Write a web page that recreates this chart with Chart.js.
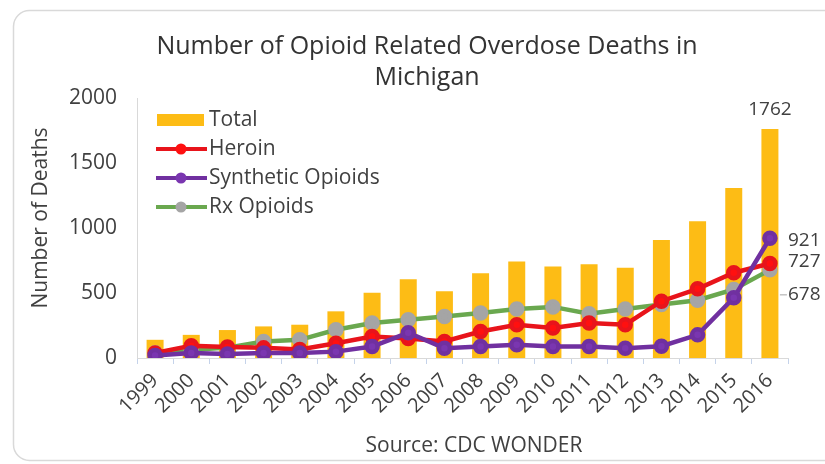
<!DOCTYPE html>
<html>
<head>
<meta charset="utf-8">
<script src="https://cdn.jsdelivr.net/npm/chart.js@4.4.1/dist/chart.umd.min.js"></script>
<style>
  html, body { margin: 0; padding: 0; background: #fff; }
  #wrap { width: 825px; height: 464px; position: relative; }
</style>
</head>
<body>
<div id="wrap"><canvas id="opioidChart" width="825" height="464"></canvas></div>
<script>
// Dati (CDC WONDER, Michigan)
const years = ['1999', '2000', '2001', '2002', '2003', '2004', '2005', '2006', '2007',
               '2008', '2009', '2010', '2011', '2012', '2013', '2014', '2015', '2016'];
const totalDeaths = [140, 178, 215, 243, 256, 359, 501, 605, 514,
                     651, 742, 703, 721, 695, 907, 1052, 1307, 1762];
const heroinDeaths = [39, 95, 85, 78, 65, 114, 165, 150, 127,
                      204, 256, 230, 269, 256, 437, 532, 656, 727];
const syntheticDeaths = [20, 39, 30, 39, 39, 49, 88, 194, 75,
                         88, 101, 88, 88, 75, 91, 178, 463, 921];
const rxDeaths = [40, 62, 80, 127, 140, 217, 269, 295, 320,
                  346, 377, 393, 341, 377, 411, 444, 527, 678];
const yTicks = [0, 500, 1000, 1500, 2000];

const titleLines = ['Number of Opioid Related Overdose Deaths in', 'Michigan'];
const yTitle = 'Number of Deaths';
const sourceText = 'Source: CDC WONDER';

const FONT = "'Open Sans', sans-serif";
const TEXT = '#404040';

// bordo arrotondato + titoli (posizionati come nell'originale)
const frame = {
    id: 'frame',
    beforeDraw(chart) {
        const c = chart.ctx;
        c.save();
        c.strokeStyle = '#d9d9d9';
        c.lineWidth = 1.5;
        c.beginPath();
        c.roundRect(13.5, 10.5, 830, 450, 16);
        c.stroke();

        c.fillStyle = '#333333';
        c.textAlign = 'center';
        c.textBaseline = 'alphabetic';
        c.font = '25px ' + FONT;
        c.fillText(titleLines[0], 427, 54);
        c.fillText(titleLines[1], 427, 85);

        c.fillStyle = TEXT;
        c.font = '21px ' + FONT;
        c.textBaseline = 'middle';
        c.fillText(sourceText, 474, 446);

        c.translate(41, 218);
        c.rotate(-Math.PI / 2);
        c.fillText(yTitle, 0, 0);
        c.restore();
    }
};

// legenda dentro l'area del grafico, in alto a sinistra
const innerLegend = {
    id: 'innerLegend',
    afterDraw(chart) {
        const c = chart.ctx;
        const x0 = 156, y0 = 120, step = 29;
        c.save();
        c.font = '21px ' + FONT;
        c.textBaseline = 'middle';
        chart.data.datasets.forEach(function(ds, i) {
            const y = y0 + i * step;
            if (ds.type === 'bar') {
                c.fillStyle = ds.backgroundColor;
                c.fillRect(x0 + 1, y - 6, 47, 12);
            } else {
                c.strokeStyle = ds.borderColor;
                c.lineWidth = 4;
                c.beginPath();
                c.moveTo(x0, y);
                c.lineTo(x0 + 51, y);
                c.stroke();
                c.fillStyle = ds.pointBackgroundColor;
                c.beginPath();
                c.arc(x0 + 25, y, 5.5, 0, Math.PI * 2);
                c.fill();
            }
            c.fillStyle = TEXT;
            c.fillText(ds.label, x0 + 53, y);
        });
        c.restore();
    }
};

// etichette dei valori del 2016
const endLabels = {
    id: 'endLabels',
    afterDatasetsDraw(chart) {
        const c = chart.ctx;
        const last = years.length - 1;
        c.save();
        c.font = '19px ' + FONT;
        c.fillStyle = TEXT;
        const bar = chart.getDatasetMeta(0).data[last];
        c.textAlign = 'center';
        c.textBaseline = 'bottom';
        c.fillText(String(totalDeaths[last]), bar.x, bar.y - 10);
        c.textAlign = 'left';
        c.textBaseline = 'middle';
        const her = chart.getDatasetMeta(1).data[last];
        const syn = chart.getDatasetMeta(2).data[last];
        const rx = chart.getDatasetMeta(3).data[last];
        c.fillText(String(syntheticDeaths[last]), syn.x + 18, syn.y + 2);
        c.fillText(String(heroinDeaths[last]), her.x + 18, her.y - 2);
        c.fillText(String(rxDeaths[last]), rx.x + 18, rx.y + 25);
        c.strokeStyle = '#a6a6a6';
        c.lineWidth = 1;
        c.beginPath();
        c.moveTo(rx.x + 10, rx.y + 25);
        c.lineTo(rx.x + 17, rx.y + 25);
        c.stroke();
        c.restore();
    }
};

const ctx = document.getElementById('opioidChart').getContext('2d');
const opioidChart = new Chart(ctx, {
    data: {
        labels: years,
        datasets: [{
            type: 'bar',
            label: 'Total',
            data: totalDeaths,
            backgroundColor: '#fdbc15',
            barPercentage: 0.47,
            categoryPercentage: 1,
            order: 4
        }, {
            type: 'line',
            label: 'Heroin',
            data: heroinDeaths,
            borderColor: '#e8141b',
            backgroundColor: '#e8141b',
            pointBackgroundColor: '#ff1010',
            pointBorderColor: '#e8141b',
            borderWidth: 4.5,
            pointRadius: 5.5,
            order: 2
        }, {
            type: 'line',
            label: 'Synthetic Opioids',
            data: syntheticDeaths,
            borderColor: '#7030a0',
            backgroundColor: '#7030a0',
            pointBackgroundColor: '#7a36b0',
            pointBorderColor: '#7030a0',
            borderWidth: 4.5,
            pointRadius: 5.5,
            order: 1
        }, {
            type: 'line',
            label: 'Rx Opioids',
            data: rxDeaths,
            borderColor: '#6aa84f',
            backgroundColor: '#a5a5a5',
            pointBackgroundColor: '#a5a5a5',
            pointBorderColor: '#a5a5a5',
            borderWidth: 4.5,
            pointRadius: 5.5,
            order: 3
        }]
    },
    options: {
        responsive: false,
        animation: false,
        layout: { padding: { left: 0, right: 37, top: 98, bottom: 0 } },
        plugins: {
            legend: { display: false },
            tooltip: { enabled: false },
            title: { display: false }
        },
        scales: {
            x: {
                offset: true,
                grid: { display: true, drawOnChartArea: false, drawTicks: true, tickLength: 6, color: '#c5d3ea' },
                border: { display: true, color: '#d9d9d9' },
                ticks: {
                    color: TEXT,
                    font: { family: FONT, size: 20 },
                    autoSkip: false,
                    minRotation: 45,
                    maxRotation: 45,
                    padding: 5
                },
                afterFit(scale) { scale.height = 106; }
            },
            y: {
                min: 0,
                max: 2000,
                afterBuildTicks(scale) { scale.ticks = yTicks.map(v => ({ value: v })); },
                grid: { display: false, drawTicks: false },
                border: { display: true, color: '#d9d9d9' },
                ticks: {
                    color: TEXT,
                    font: { family: FONT, size: 21 },
                    padding: 20,
                    callback: v => String(v)
                },
                afterFit(scale) { scale.width = 137; }
            }
        }
    },
    plugins: [frame, innerLegend, endLabels]
});
</script>
</body>
</html>
